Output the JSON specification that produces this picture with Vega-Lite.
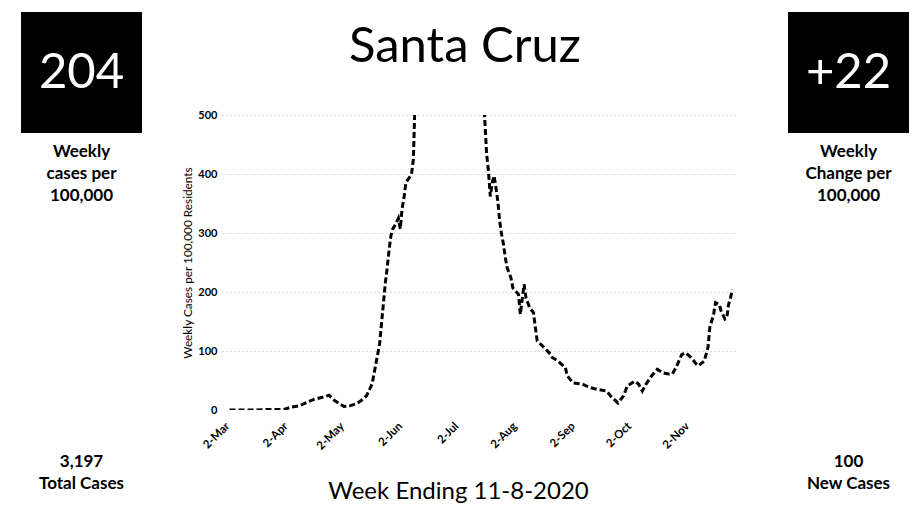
{
  "$schema": "https://vega.github.io/schema/vega-lite/v6.json",
  "background": "white",
  "padding": {"left": 21, "top": 12, "right": 0, "bottom": 0},
  "config": {
    "font": "Lato",
    "view": {"stroke": null},
    "text": {"font": "Lato", "color": "black"},
    "axis": {"labelFont": "Lato", "titleFont": "Lato", "labelColor": "black", "titleColor": "black"}
  },
  "datasets": {
    "cases": [
      {"date": "2020-03-02", "cases": 0},
      {"date": "2020-03-06", "cases": 0},
      {"date": "2020-03-11", "cases": 0},
      {"date": "2020-03-16", "cases": 0},
      {"date": "2020-03-22", "cases": 1},
      {"date": "2020-03-27", "cases": 1},
      {"date": "2020-03-31", "cases": 1},
      {"date": "2020-04-04", "cases": 5},
      {"date": "2020-04-08", "cases": 7},
      {"date": "2020-04-13", "cases": 14},
      {"date": "2020-04-16", "cases": 18},
      {"date": "2020-04-21", "cases": 22},
      {"date": "2020-04-24", "cases": 25},
      {"date": "2020-04-27", "cases": 16},
      {"date": "2020-04-30", "cases": 10},
      {"date": "2020-05-02", "cases": 6},
      {"date": "2020-05-05", "cases": 7},
      {"date": "2020-05-09", "cases": 11},
      {"date": "2020-05-12", "cases": 18},
      {"date": "2020-05-14", "cases": 24},
      {"date": "2020-05-17", "cases": 44},
      {"date": "2020-05-19", "cases": 78},
      {"date": "2020-05-21", "cases": 112},
      {"date": "2020-05-22", "cases": 146},
      {"date": "2020-05-23", "cases": 180},
      {"date": "2020-05-24", "cases": 214},
      {"date": "2020-05-25", "cases": 240},
      {"date": "2020-05-26", "cases": 270},
      {"date": "2020-05-27", "cases": 295},
      {"date": "2020-05-28", "cases": 307},
      {"date": "2020-05-29", "cases": 312},
      {"date": "2020-05-30", "cases": 318},
      {"date": "2020-05-31", "cases": 325},
      {"date": "2020-06-01", "cases": 307},
      {"date": "2020-06-02", "cases": 342},
      {"date": "2020-06-03", "cases": 360},
      {"date": "2020-06-04", "cases": 385},
      {"date": "2020-06-05", "cases": 390},
      {"date": "2020-06-06", "cases": 395},
      {"date": "2020-06-07", "cases": 400},
      {"date": "2020-06-08", "cases": 425},
      {"date": "2020-06-09", "cases": 540},
      {"date": "2020-06-12", "cases": 620},
      {"date": "2020-06-16", "cases": 680},
      {"date": "2020-06-20", "cases": 720},
      {"date": "2020-06-25", "cases": 740},
      {"date": "2020-06-30", "cases": 720},
      {"date": "2020-07-05", "cases": 680},
      {"date": "2020-07-10", "cases": 610},
      {"date": "2020-07-14", "cases": 560},
      {"date": "2020-07-15", "cases": 540},
      {"date": "2020-07-16", "cases": 495},
      {"date": "2020-07-17", "cases": 435},
      {"date": "2020-07-18", "cases": 405},
      {"date": "2020-07-19", "cases": 362},
      {"date": "2020-07-20", "cases": 385},
      {"date": "2020-07-21", "cases": 397},
      {"date": "2020-07-22", "cases": 377},
      {"date": "2020-07-23", "cases": 354},
      {"date": "2020-07-24", "cases": 320},
      {"date": "2020-07-25", "cases": 298},
      {"date": "2020-07-26", "cases": 281},
      {"date": "2020-07-27", "cases": 258},
      {"date": "2020-07-28", "cases": 241},
      {"date": "2020-07-30", "cases": 224},
      {"date": "2020-07-31", "cases": 207},
      {"date": "2020-08-03", "cases": 196},
      {"date": "2020-08-04", "cases": 162},
      {"date": "2020-08-06", "cases": 213},
      {"date": "2020-08-07", "cases": 190},
      {"date": "2020-08-09", "cases": 173},
      {"date": "2020-08-11", "cases": 165},
      {"date": "2020-08-12", "cases": 140},
      {"date": "2020-08-13", "cases": 117},
      {"date": "2020-08-16", "cases": 108},
      {"date": "2020-08-20", "cases": 95},
      {"date": "2020-08-21", "cases": 89},
      {"date": "2020-08-24", "cases": 83},
      {"date": "2020-08-28", "cases": 72},
      {"date": "2020-08-29", "cases": 58},
      {"date": "2020-09-01", "cases": 46},
      {"date": "2020-09-06", "cases": 44},
      {"date": "2020-09-10", "cases": 38},
      {"date": "2020-09-14", "cases": 35},
      {"date": "2020-09-19", "cases": 32},
      {"date": "2020-09-21", "cases": 24},
      {"date": "2020-09-25", "cases": 12},
      {"date": "2020-09-28", "cases": 24},
      {"date": "2020-09-30", "cases": 41},
      {"date": "2020-10-04", "cases": 49},
      {"date": "2020-10-06", "cases": 44},
      {"date": "2020-10-08", "cases": 32},
      {"date": "2020-10-10", "cases": 44},
      {"date": "2020-10-13", "cases": 58},
      {"date": "2020-10-16", "cases": 69},
      {"date": "2020-10-19", "cases": 63},
      {"date": "2020-10-22", "cases": 61},
      {"date": "2020-10-24", "cases": 61},
      {"date": "2020-10-26", "cases": 72},
      {"date": "2020-10-29", "cases": 94},
      {"date": "2020-10-31", "cases": 97},
      {"date": "2020-11-03", "cases": 89},
      {"date": "2020-11-06", "cases": 77},
      {"date": "2020-11-07", "cases": 75},
      {"date": "2020-11-10", "cases": 83},
      {"date": "2020-11-12", "cases": 106},
      {"date": "2020-11-13", "cases": 140},
      {"date": "2020-11-15", "cases": 162},
      {"date": "2020-11-16", "cases": 182},
      {"date": "2020-11-18", "cases": 179},
      {"date": "2020-11-19", "cases": 168},
      {"date": "2020-11-21", "cases": 154},
      {"date": "2020-11-22", "cases": 156},
      {"date": "2020-11-23", "cases": 179},
      {"date": "2020-11-24", "cases": 190},
      {"date": "2020-11-25", "cases": 204}
    ]
  },
  "spacing": 40,
  "hconcat": [
    {
      "spacing": 1,
      "vconcat": [
        {
          "width": 121, "height": 121,
          "view": {"fill": "black", "stroke": null},
          "data": {"values": [{"metric": "Weekly cases per 100,000", "value": "204"}]},
          "mark": {"type": "text", "color": "white", "fontSize": 49},
          "encoding": {"text": {"field": "value"}}
        },
        {
          "width": 121, "height": 80,
          "data": {"values": [{"label": "Weekly\ncases per\n100,000"}]},
          "mark": {"type": "text", "fontSize": 17, "fontWeight": "bold", "lineBreak": "\n", "lineHeight": 22, "dy": -22},
          "encoding": {"text": {"field": "label"}}
        },
        {
          "width": 121, "height": 247,
          "data": {"values": [{"label": "3,197\nTotal Cases"}]},
          "mark": {"type": "text", "fontSize": 17, "fontWeight": "bold", "lineBreak": "\n", "lineHeight": 22, "baseline": "middle"},
          "encoding": {"text": {"field": "label"}, "y": {"value": "height"}}
        }
      ]
    },
    {
      "spacing": 50,
      "hconcat": [
        {
          "spacing": 27,
          "vconcat": [
            {
              "width": 486, "height": 70,
              "data": {"values": [{"county": "Santa Cruz"}]},
              "mark": {"type": "text", "fontSize": 49},
              "encoding": {"text": {"field": "county"}}
            },
            {
              "width": 516, "height": 295,
              "data": {"name": "cases"},
              "mark": {"type": "line", "color": "black", "strokeWidth": 3, "strokeDash": [6, 3], "clip": true},
              "encoding": {
                "x": {
                  "field": "date", "type": "temporal",
                  "scale": {"type": "utc", "domain": [{"year": 2020, "month": 2, "date": 27, "utc": true}, {"year": 2020, "month": 11, "date": 28, "utc": true}]},
                  "axis": {
                    "values": [
                      {"year": 2020, "month": 3, "date": 2, "utc": true},
                      {"year": 2020, "month": 4, "date": 2, "utc": true},
                      {"year": 2020, "month": 5, "date": 2, "utc": true},
                      {"year": 2020, "month": 6, "date": 2, "utc": true},
                      {"year": 2020, "month": 7, "date": 2, "utc": true},
                      {"year": 2020, "month": 8, "date": 2, "utc": true},
                      {"year": 2020, "month": 9, "date": 2, "utc": true},
                      {"year": 2020, "month": 10, "date": 2, "utc": true},
                      {"year": 2020, "month": 11, "date": 2, "utc": true}
                    ],
                    "format": "%-d-%b", "labelAngle": -45, "labelFontSize": 11.5, "labelFontWeight": "bold",
                    "labelPadding": 10, "labelOffset": -6, "ticks": false, "domain": false, "grid": false, "title": null
                  }
                },
                "y": {
                  "field": "cases", "type": "quantitative",
                  "scale": {"domain": [0, 500]},
                  "axis": {
                    "values": [0, 100, 200, 300, 400, 500],
                    "labelFontSize": 11, "labelFontWeight": "bold", "labelPadding": 5,
                    "ticks": false, "domain": false,
                    "grid": true, "gridColor": "#999", "gridDash": [1, 3],
                    "gridOpacity": {"condition": {"test": "datum.value === 0", "value": 0}, "value": 0.7},
                    "title": "Weekly Cases per 100,000 Residents", "titleFontSize": 11.8, "titleFontWeight": "normal", "titlePadding": 4
                  }
                }
              }
            },
            {
              "width": 473, "height": 26,
              "data": {"values": [{"label": "Week Ending 11-8-2020"}]},
              "mark": {"type": "text", "fontSize": 24},
              "encoding": {"text": {"field": "label"}}
            }
          ]
        },
        {
          "spacing": 1,
          "vconcat": [
            {
              "width": 121, "height": 121,
              "view": {"fill": "black", "stroke": null},
              "data": {"values": [{"metric": "Weekly change per 100,000", "value": "+22"}]},
              "mark": {"type": "text", "color": "white", "fontSize": 49},
              "encoding": {"text": {"field": "value"}}
            },
            {
              "width": 121, "height": 80,
              "data": {"values": [{"label": "Weekly\nChange per\n100,000"}]},
              "mark": {"type": "text", "fontSize": 17, "fontWeight": "bold", "lineBreak": "\n", "lineHeight": 22, "dy": -22},
              "encoding": {"text": {"field": "label"}}
            },
            {
              "width": 121, "height": 247,
              "data": {"values": [{"label": "100\nNew Cases"}]},
              "mark": {"type": "text", "fontSize": 17, "fontWeight": "bold", "lineBreak": "\n", "lineHeight": 22, "baseline": "middle"},
              "encoding": {"text": {"field": "label"}, "y": {"value": "height"}}
            }
          ]
        }
      ]
    }
  ]
}
